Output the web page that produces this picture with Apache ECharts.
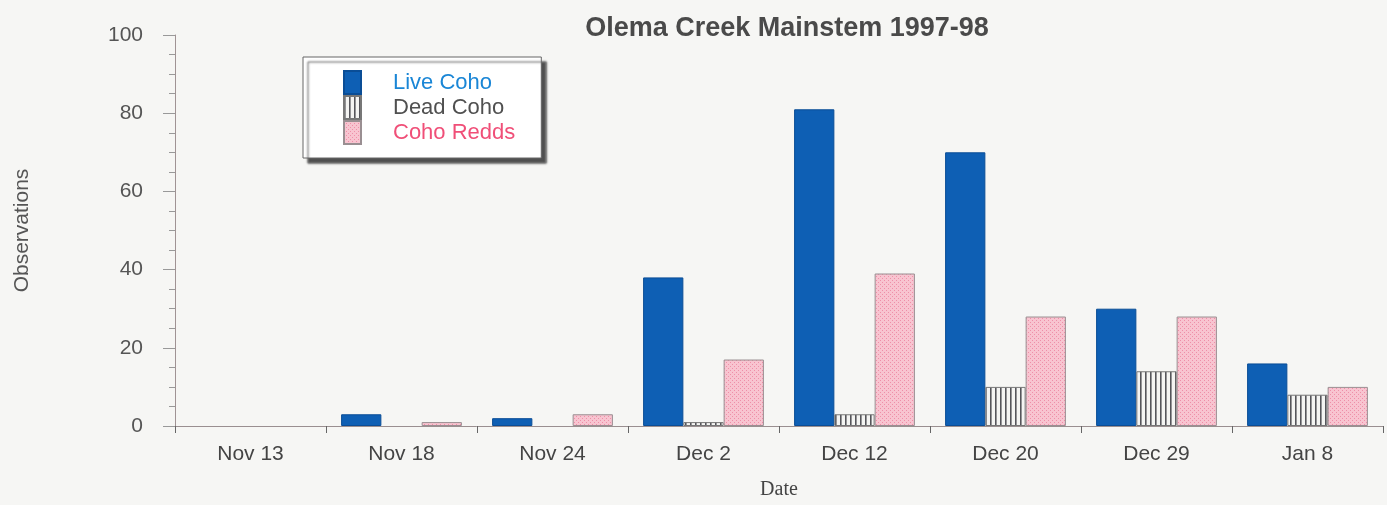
<!DOCTYPE html>
<html>
<head>
<meta charset="utf-8">
<script src="https://cdn.jsdelivr.net/npm/echarts@6/dist/echarts.min.js"></script>
<style>
  html, body { margin: 0; padding: 0; background: #f6f6f4; }
  #chart { width: 1387px; height: 505px; }
</style>
</head>
<body>
<div id="chart"></div>
<script>
// survey dates and counts
const dates = ['Nov 13', 'Nov 18', 'Nov 24', 'Dec 2', 'Dec 12', 'Dec 20', 'Dec 29', 'Jan 8']
const liveCoho = [0, 3, 2, 38, 81, 70, 30, 16]
const deadCoho = [0, 0, 0, 1, 3, 10, 14, 8]
const cohoRedds = [0, 1, 3, 17, 39, 28, 28, 10]

// zero counts draw no bar at all
const noZero = (arr) => arr.map((v) => (v === 0 ? '-' : v))

// fill patterns: vertical stripes and pink stipple
function stripes() {
  const c = document.createElement('canvas')
  c.width = 5; c.height = 5
  const g = c.getContext('2d')
  g.fillStyle = '#f4f4f2'
  g.fillRect(0, 0, 5, 5)
  g.fillStyle = '#55555a'
  g.fillRect(0, 0, 1.6, 5)
  return { image: c, repeat: 'repeat' }
}
function stipple() {
  const c = document.createElement('canvas')
  c.width = 4; c.height = 4
  const g = c.getContext('2d')
  g.fillStyle = '#f8c4d0'
  g.fillRect(0, 0, 4, 4)
  g.fillStyle = '#ee8fa8'
  g.fillRect(0, 0, 1, 1)
  g.fillRect(2, 2, 1, 1)
  return { image: c, repeat: 'repeat' }
}

const font = 'Liberation Sans'
const chart = echarts.init(document.getElementById('chart'))
chart.setOption({
  backgroundColor: '#f6f6f4',
  animation: false,
  title: {
    text: 'Olema Creek Mainstem 1997-98',
    left: 782,
    top: 10,
    textAlign: 'center',
    textStyle: { fontFamily: font, fontSize: 27, fontWeight: 'bold', color: '#4a4a4a' }
  },
  legend: {
    orient: 'vertical',
    left: 303,
    top: 57,
    padding: [13, 26, 13, 40],
    itemWidth: 17,
    itemHeight: 23,
    itemGap: 0,
    icon: 'rect',
    backgroundColor: '#ffffff',
    borderColor: '#666',
    borderWidth: 1,
    shadowColor: 'rgba(40,40,40,0.8)',
    shadowBlur: 2,
    shadowOffsetX: 5,
    shadowOffsetY: 5,
    textStyle: { fontFamily: font, fontSize: 22, padding: [0, 0, 0, 27] },
    data: [
      { name: 'Live Coho', textStyle: { color: '#1a86d6' } },
      { name: 'Dead Coho', textStyle: { color: '#505050' } },
      { name: 'Coho Redds', textStyle: { color: '#f04f78' } }
    ]
  },
  grid: { left: 175, right: 4, top: 35, bottom: 77 },
  xAxis: {
    type: 'category',
    data: dates,
    name: 'Date',
    nameLocation: 'middle',
    nameGap: 54,
    nameTextStyle: { fontFamily: 'Liberation Serif', fontSize: 20, color: '#444' },
    axisLine: { lineStyle: { color: '#9a8f90' } },
    axisTick: { show: true, length: 7, lineStyle: { color: '#666' } },
    axisLabel: { fontFamily: font, fontSize: 21, color: '#444', margin: 18 }
  },
  yAxis: {
    type: 'value',
    min: 0,
    max: 100,
    interval: 20,
    name: 'Observations',
    nameLocation: 'middle',
    nameGap: 142,
    nameTextStyle: { fontFamily: font, fontSize: 21, color: '#555' },
    axisLine: { show: true, lineStyle: { color: '#a09394' } },
    axisTick: { show: true, length: 12, lineStyle: { color: '#999' } },
    minorTick: { show: true, splitNumber: 4, length: 6, lineStyle: { color: '#999' } },
    splitLine: { show: false },
    axisLabel: { fontFamily: font, fontSize: 21, color: '#555', margin: 32 }
  },
  series: [
    {
      name: 'Live Coho',
      type: 'bar',
      data: noZero(liveCoho),
      barGap: '0%',
      barCategoryGap: '20%',
      itemStyle: { color: '#0e5fb4', borderColor: '#0a4d96', borderWidth: 1 }
    },
    {
      name: 'Dead Coho',
      type: 'bar',
      data: noZero(deadCoho),
      itemStyle: { color: stripes(), borderColor: '#777', borderWidth: 1 }
    },
    {
      name: 'Coho Redds',
      type: 'bar',
      data: noZero(cohoRedds),
      itemStyle: { color: stipple(), borderColor: '#9a8f92', borderWidth: 1 }
    }
  ]
})
</script>
</body>
</html>
